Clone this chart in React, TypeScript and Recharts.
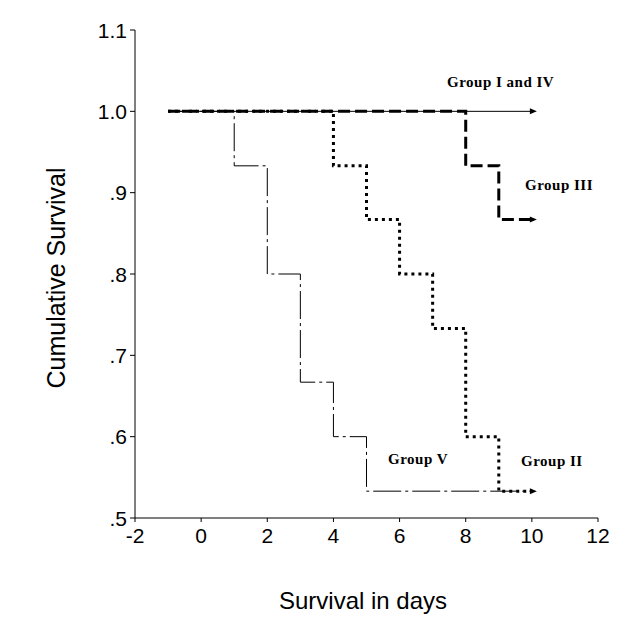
import React from 'react';
import { LineChart, Line, XAxis, YAxis } from 'recharts';

// Kaplan-Meier style survival steps
const daysI = [-1, 10];
const survI = [1, 1];

const daysII = [-1, 4, 5, 6, 7, 8, 9, 10];
const survII = [1, 0.933, 0.867, 0.8, 0.733, 0.6, 0.533, 0.533];

const daysIII = [-1, 8, 9, 10];
const survIII = [1, 0.933, 0.867, 0.867];

const daysV = [-1, 1, 2, 3, 4, 5, 10];
const survV = [1, 0.933, 0.8, 0.667, 0.6, 0.533, 0.533];

const xTicks = [-2, 0, 2, 4, 6, 8, 10, 12];
const yTicks = [0.5, 0.6, 0.7, 0.8, 0.9, 1.0, 1.1];

const toRows = (xs: number[], ys: number[]) => xs.map((x, i) => ({ x, y: ys[i] }));

const groupI = toRows(daysI, survI);
const groupII = toRows(daysII, survII);
const groupIII = toRows(daysIII, survIII);
const groupV = toRows(daysV, survV);

const sans = 'Arial, "Liberation Sans", sans-serif';
const serif = '"Times New Roman", "Liberation Serif", serif';

const fmtY = (v: number) => (v >= 1 ? v.toFixed(1) : v.toFixed(1).slice(1));

// arrow head drawn on the last point of a series
const arrowAt = (last: number) => (props: any) => {
  const { cx, cy, index } = props;
  if (index !== last || cx == null) return <g key={`d${index}`} />;
  return (
    <path
      key={`d${index}`}
      d={`M${cx - 2},${cy - 3} L${cx + 5},${cy} L${cx - 2},${cy + 3} Z`}
      fill="#000"
      stroke="none"
    />
  );
};

const XTick = (props: any) => {
  const { x, y, payload } = props;
  return (
    <text x={x} y={y} dy="0.72em" textAnchor="middle" fill="#000" fontSize={21} fontFamily={sans}>
      {payload.value}
    </text>
  );
};

const YTick = (props: any) => {
  const { x, y, payload } = props;
  return (
    <text x={x} y={y} dy="0.36em" textAnchor="end" fill="#000" fontSize={21} fontFamily={sans}>
      {fmtY(payload.value)}
    </text>
  );
};

const groupLabel = { fontFamily: serif, fontSize: 15, fontWeight: 700, letterSpacing: 0.5, fill: '#000' };

export default function App() {
  return (
    <div style={{ position: 'absolute', left: 0, top: 0, width: 630, height: 630, background: '#fff' }}>
      <LineChart width={630} height={630} margin={{ top: 30, right: 32, bottom: 72, left: 65 }}>
        <XAxis
          type="number"
          dataKey="x"
          domain={[-2, 12]}
          ticks={xTicks}
          allowDataOverflow
          height={40}
          stroke="#000"
          tickLine={{ stroke: '#000' }}
          tickSize={4}
          tickMargin={6}
          tick={<XTick />}
        />
        <YAxis
          type="number"
          dataKey="y"
          domain={[0.5, 1.1]}
          ticks={yTicks}
          allowDataOverflow
          width={70}
          stroke="#000"
          tickSize={5}
          tickMargin={3}
          tick={<YTick />}
        />
        <Line
          data={groupI}
          dataKey="y"
          type="stepAfter"
          stroke="#000"
          strokeWidth={1}
          dot={arrowAt(groupI.length - 1)}
          activeDot={false}
          isAnimationActive={false}
        />
        <Line
          data={groupV}
          dataKey="y"
          type="stepAfter"
          stroke="#000"
          strokeWidth={1}
          strokeDasharray="28 4 3 4"
          dot={false}
          activeDot={false}
          isAnimationActive={false}
        />
        <Line
          data={groupII}
          dataKey="y"
          type="stepAfter"
          stroke="#000"
          strokeWidth={3}
          strokeDasharray="3 4"
          dot={arrowAt(groupII.length - 1)}
          activeDot={false}
          isAnimationActive={false}
        />
        <Line
          data={groupIII}
          dataKey="y"
          type="stepAfter"
          stroke="#000"
          strokeWidth={3}
          strokeDasharray="12 5"
          dot={arrowAt(groupIII.length - 1)}
          activeDot={false}
          isAnimationActive={false}
        />
        <text x={447} y={87} style={groupLabel}>Group I and IV</text>
        <text x={525} y={190} style={groupLabel}>Group III</text>
        <text x={388} y={464} style={groupLabel}>Group V</text>
        <text x={521} y={466} style={groupLabel}>Group II</text>
        <text x={363} y={609} textAnchor="middle" style={{ fontFamily: sans, fontSize: 24, fill: '#000' }}>
          Survival in days
        </text>
        <text
          x={65}
          y={278}
          textAnchor="middle"
          transform="rotate(-90, 65, 278)"
          style={{ fontFamily: sans, fontSize: 25, fill: '#000' }}
        >
          Cumulative Survival
        </text>
      </LineChart>
    </div>
  );
}
